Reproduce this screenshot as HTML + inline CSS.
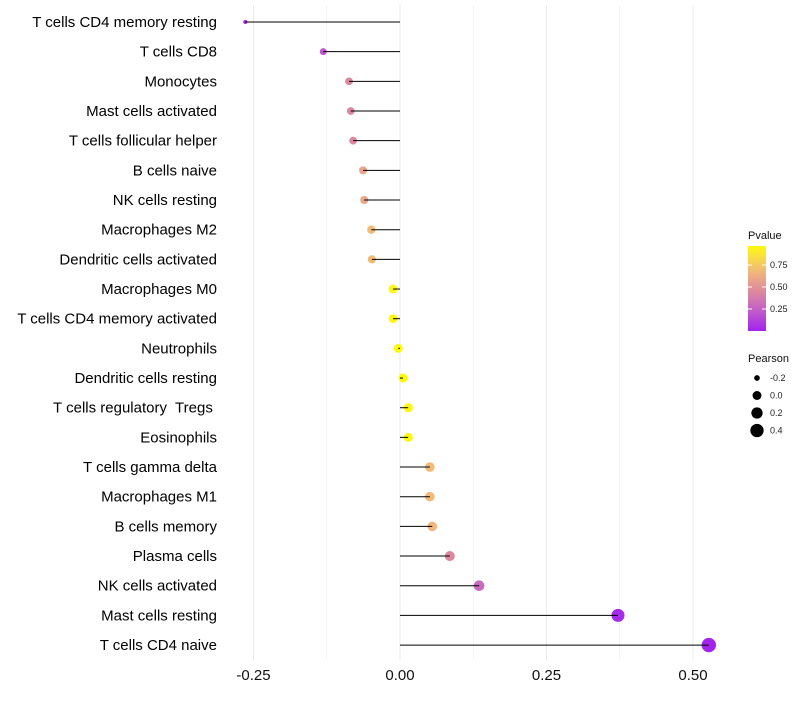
<!DOCTYPE html>
<html><head><meta charset="utf-8"><style>
body{margin:0;background:#fff;font-family:"Liberation Sans",sans-serif}
text{white-space:pre}
</style></head><body>
<svg id="c" width="800" height="700" xmlns="http://www.w3.org/2000/svg"></svg>
<script>
const cells=["T cells CD4 memory resting","T cells CD8","Monocytes","Mast cells activated","T cells follicular helper","B cells naive","NK cells resting","Macrophages M2","Dendritic cells activated","Macrophages M0","T cells CD4 memory activated","Neutrophils","Dendritic cells resting","T cells regulatory  Tregs ","Eosinophils","T cells gamma delta","Macrophages M1","B cells memory","Plasma cells","NK cells activated","Mast cells resting","T cells CD4 naive"];
const pearson=[-0.264,-0.131,-0.087,-0.084,-0.080,-0.063,-0.061,-0.049,-0.048,-0.012,-0.012,-0.003,0.005,0.014,0.014,0.051,0.051,0.055,0.085,0.135,0.372,0.527];
const pvals=[0.03,0.22,0.45,0.45,0.45,0.6,0.6,0.7,0.7,0.96,0.96,0.98,0.98,0.96,0.96,0.7,0.7,0.68,0.45,0.3,0.04,0.02];
const xTicks=[-0.25,0,0.25,0.5];
const xTickLabels=["-0.25","0.00","0.25","0.50"];
const legP=[0.75,0.5,0.25];
const legS=[-0.2,0,0.2,0.4];
const svg=document.getElementById('c');const NS="http://www.w3.org/2000/svg";
function X(v){return 400+v*586;}
function Y(i){return 22+i*29.67;}
function R(v){return Math.sqrt(Math.max(3.5,20+60*v));}
const stops=[[0,[160,32,240]],[0.25,[194,96,200]],[0.45,[218,136,158]],[0.6,[234,164,138]],[0.7,[242,186,120]],[0.85,[250,220,70]],[1,[255,255,0]]];
function col(p){let a=stops[0],b=stops[1];for(let k=0;k<stops.length-1;k++){if(p>=stops[k][0]&&p<=stops[k+1][0]){a=stops[k];b=stops[k+1];}}const t=(p-a[0])/(b[0]-a[0]);return 'rgb('+a[1].map((c,k)=>Math.round(c+(b[1][k]-c)*t)).join(',')+')';}
function el(t,at,par){const e=document.createElementNS(NS,t);for(const k in at)e.setAttribute(k,at[k]);(par||svg).appendChild(e);return e;}
const g=el('g',{});


for(let v=-0.25;v<=0.5001;v+=0.125){el('line',{x1:X(v),x2:X(v),y1:5,y2:660,stroke:'#ebebeb','stroke-width':Math.abs(v*4-Math.round(v*4))<1e-6?1:0.6},g);}
xTicks.forEach((v,i)=>{const t=el('text',{x:X(v),y:680,'text-anchor':'middle','font-size':15,fill:'#111'});t.textContent=xTickLabels[i];

});
cells.forEach((c,i)=>{const y=Y(i);
const t=el('text',{x:217,y:y+5,'text-anchor':'end','font-size':15,fill:'#000'});t.textContent=c;


const p=el('circle',{cx:X(pearson[i]),cy:y,r:R(pearson[i]),fill:col(pvals[i])});


const l=el('line',{x1:X(0),x2:X(pearson[i]),y1:y,y2:y,stroke:'#000','stroke-width':1});

});
const lg=el('g',{});


let t=el('text',{x:748,y:239,'font-size':11,fill:'#111'},lg);t.textContent='Pvalue';
const df=el('defs',{});const gr=el('linearGradient',{id:'gr',x1:0,y1:1,x2:0,y2:0},df);
for(let k=0;k<=10;k++)el('stop',{offset:k/10,'stop-color':col(0.01+0.97*k/10)},gr);
el('rect',{x:748,y:246,width:18,height:85,fill:'url(#gr)'},lg);
legP.forEach(p=>{const y=331-p*88;el('line',{x1:748,x2:752,y1:y,y2:y,stroke:'#fff'},lg);el('line',{x1:762,x2:766,y1:y,y2:y,stroke:'#fff'},lg);
const tt=el('text',{x:770,y:y+3,'font-size':9,fill:'#222'},lg);tt.textContent=p.toFixed(2);});
t=el('text',{x:748,y:362,'font-size':11,fill:'#111'},lg);t.textContent='Pearson';
legS.forEach((s,k)=>{const y=378+k*17.5;el('circle',{cx:757,cy:y,r:R(s),fill:'#000'},lg);
const tt=el('text',{x:770,y:y+3,'font-size':9,fill:'#222'},lg);tt.textContent=s===0?'0.0':String(s);});
</script>
</body></html>
